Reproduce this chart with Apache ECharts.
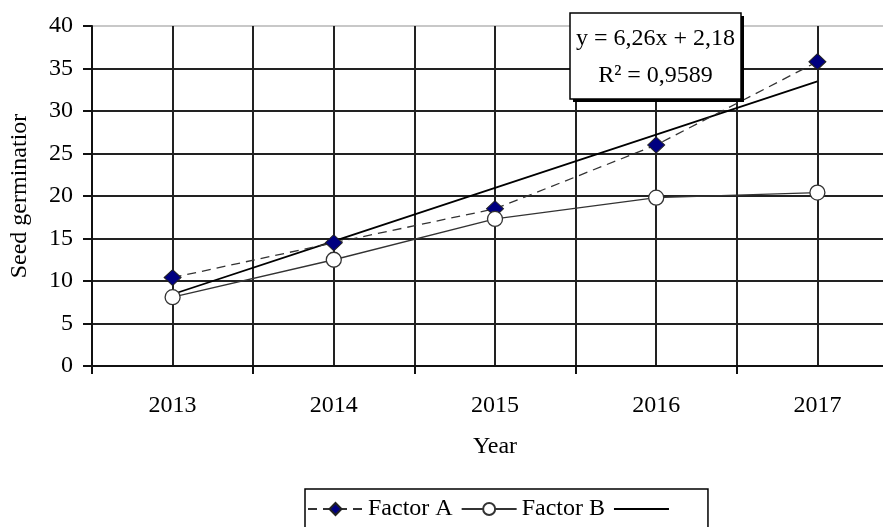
<!DOCTYPE html>
<html>
<head>
<meta charset="utf-8">
<script src="https://cdn.jsdelivr.net/npm/echarts@6/dist/echarts.min.js"></script>
<style>html,body{margin:0;padding:0;background:#fff;}#c{width:883px;height:527px;}</style>
</head>
<body>
<div id="c"></div>
<script>
var years = ['2013', '2014', '2015', '2016', '2017'];
var factorA = [10.4, 14.5, 18.5, 26.0, 35.8];
var factorB = [8.1, 12.5, 17.3, 19.8, 20.4];
var trendA = [8.44, 14.70, 20.96, 27.22, 33.48];
var equationText = 'y = 6,26x + 2,18';
var r2Text = 'R² = 0,9589';
var xTitle = 'Year';
var yTitle = 'Seed germinatior';

var FONT = 'Liberation Serif';
var chart = echarts.init(document.getElementById('c'), null, {renderer: 'canvas'});

chart.setOption({
  animation: false,
  backgroundColor: '#fff',
  textStyle: {fontFamily: FONT},
  grid: {left: 92, top: 26, width: 806, bottom: 161, containLabel: false, outerBoundsMode: 'none',
    show: true, borderColor: '#c8c8c8', borderWidth: 2, backgroundColor: 'rgba(0,0,0,0)'},
  xAxis: [{
    type: 'category', data: years, boundaryGap: true, position: 'bottom',
    axisLine: {show: true, onZero: false, lineStyle: {color: '#111', width: 2}},
    axisTick: {show: true, length: 8, lineStyle: {color: '#111', width: 2}},
    axisLabel: {color: '#000', fontFamily: FONT, fontSize: 24, margin: 28},
    splitLine: {show: false}
  }, {
    type: 'value', min: -0.5, max: 4.5, interval: 0.5, position: 'top',
    axisLine: {show: false, onZero: false}, axisTick: {show: false}, axisLabel: {show: false},
    minorTick: {show: false}, axisPointer: {show: false},
    splitLine: {show: true, lineStyle: {color: '#222', width: 2}}
  }],
  yAxis: {
    type: 'value', min: 0, max: 40, interval: 5,
    axisLine: {show: true, onZero: false, lineStyle: {color: '#111', width: 2}},
    axisTick: {show: true, length: 9, lineStyle: {color: '#111', width: 2}},
    axisLabel: {color: '#000', fontFamily: FONT, fontSize: 24, margin: 19},
    splitLine: {show: true, showMaxLine: false, lineStyle: {color: '#222', width: 2}}
  },
  legend: {
    left: 305, top: 489, orient: 'horizontal',
    itemWidth: 55, itemHeight: 15, itemGap: 8,
    borderColor: '#000', borderWidth: 1.5, padding: [8, 38, 30, 2],
    textStyle: {color: '#000', fontFamily: FONT, fontSize: 24},
    formatter: function (n) { return n === 'Trend' ? '' : n; },
    data: ['Factor A', 'Factor B',
      {name: 'Trend', itemStyle: {color: 'rgba(0,0,0,0)', borderColor: 'rgba(0,0,0,0)', borderWidth: 0}}]
  },
  series: [{
    name: 'Trend', type: 'line', data: trendA, xAxisIndex: 0,
    symbol: 'none', z: 3,
    lineStyle: {color: '#000', width: 1.8}
  }, {
    name: 'Factor A', type: 'line', data: factorA, xAxisIndex: 0,
    symbol: 'diamond', symbolSize: [17, 16], z: 4,
    lineStyle: {color: '#333', width: 1.3, type: [9, 6]},
    itemStyle: {color: '#000080', borderColor: '#222', borderWidth: 1}
  }, {
    name: 'Factor B', type: 'line', data: factorB, xAxisIndex: 0,
    symbol: 'circle', symbolSize: 15, z: 5,
    lineStyle: {color: '#333', width: 1.3},
    itemStyle: {color: '#fff', borderColor: '#333', borderWidth: 1.3}
  }],
  graphic: [
    {type: 'text', x: 495, y: 447, silent: true,
     style: {text: xTitle, fill: '#000', font: '24px "' + FONT + '"', textAlign: 'center', textVerticalAlign: 'middle'}},
    {type: 'text', x: 20, y: 196, rotation: Math.PI / 2, silent: true,
     style: {text: yTitle, fill: '#000', font: '24px "' + FONT + '"', textAlign: 'center', textVerticalAlign: 'middle'}},
    {type: 'rect', shape: {x: 573, y: 16, width: 171, height: 86}, style: {fill: '#000'}, z: 20, silent: true},
    {type: 'rect', shape: {x: 570, y: 13, width: 171, height: 86}, style: {fill: '#fff', stroke: '#000', lineWidth: 1.5}, z: 21, silent: true},
    {type: 'text', x: 655.5, y: 39, z: 22, silent: true,
     style: {text: equationText, fill: '#000', font: '24px "' + FONT + '"', textAlign: 'center', textVerticalAlign: 'middle'}},
    {type: 'text', x: 655.5, y: 76, z: 22, silent: true,
     style: {text: r2Text, fill: '#000', font: '24px "' + FONT + '"', textAlign: 'center', textVerticalAlign: 'middle'}}
  ]
});
</script>
</body>
</html>
